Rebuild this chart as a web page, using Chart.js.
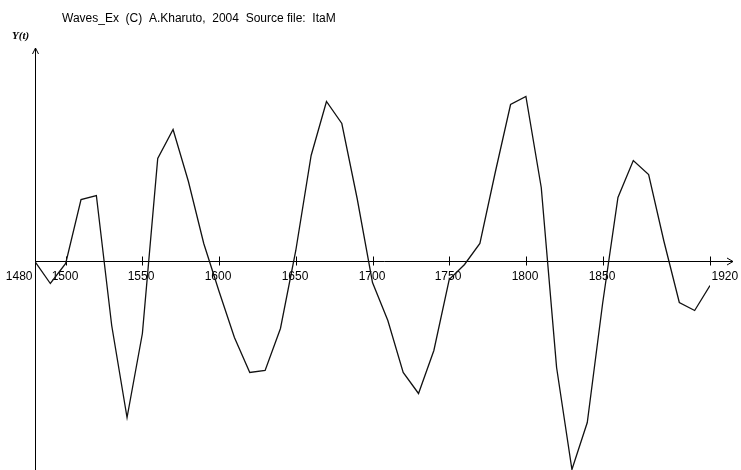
<!DOCTYPE html>
<html>
<head>
<meta charset="utf-8">
<script src="https://cdn.jsdelivr.net/npm/chart.js@4/dist/chart.umd.min.js"></script>
<style>
  html, body { margin: 0; padding: 0; background: #fff; }
  #wrap { width: 741px; height: 470px; }
</style>
</head>
<body>
<div id="wrap"><canvas id="c" width="741" height="470"></canvas></div>
<script>
// Wave series Y(t), one reading per decade
const years = [1480, 1490, 1500, 1510, 1520, 1530, 1540, 1550, 1560, 1570,
               1580, 1590, 1600, 1610, 1620, 1630, 1640, 1650, 1660, 1670,
               1680, 1690, 1700, 1710, 1720, 1730, 1740, 1750, 1760, 1770,
               1780, 1790, 1800, 1810, 1820, 1830, 1840, 1850, 1860, 1870,
               1880, 1890, 1900, 1910, 1920];
const values = [0, -2.2, -0.2, 6.2, 6.6, -6.4, -15.6, -7.2, 10.3, 13.2,
                8.0, 1.8, -3.0, -7.6, -11.1, -10.9, -6.7, 1.1, 10.6, 16.0,
                13.8, 6.3, -2.1, -5.9, -11.1, -13.2, -8.9, -1.8, -0.3, 1.8,
                8.9, 15.7, 16.5, 7.4, -10.6, -20.8, -16.1, -4.2, 6.4, 10.1,
                8.7, 2.0, -4.1, -4.9, -2.4];

// Axis ticks and captions
const tickYears = [1500, 1550, 1600, 1650, 1700, 1750, 1800, 1850, 1920];
const tickLabels = ['1500', '1550', '1600', '1650', '1700', '1750', '1800', '1850', '1920'];
const originLabel = '1480';
const yAxisLabel = 'Y(t)';
const titleText = 'Waves_Ex  (C)  A.Kharuto,  2004  Source file:  ItaM';

const SANS = '"Liberation Sans", Arial, sans-serif';
const SERIF = '"Liberation Serif", "Times New Roman", serif';

// Draws the arrowed axes, tick marks, tick captions and the heading
const axesPlugin = {
  id: 'arrowAxes',
  beforeDatasetsDraw(chart) {
    const ctx = chart.ctx;
    const xs = chart.scales.x, ys = chart.scales.y;
    const x0 = Math.round(xs.getPixelForValue(1480)) + 0.5;
    const y0 = Math.floor(ys.getPixelForValue(0)) + 0.5;
    ctx.save();
    ctx.strokeStyle = '#000';
    ctx.lineWidth = 1;

    // horizontal axis with arrow
    const xEnd = 733;
    ctx.beginPath();
    ctx.moveTo(x0, y0);
    ctx.lineTo(xEnd, y0);
    ctx.moveTo(xEnd - 6, y0 - 3.5);
    ctx.lineTo(xEnd, y0);
    ctx.lineTo(xEnd - 6, y0 + 3.5);
    ctx.stroke();

    // vertical axis with arrow
    const yTop = 48;
    ctx.beginPath();
    ctx.moveTo(x0, chart.height);
    ctx.lineTo(x0, yTop);
    ctx.moveTo(x0 - 3, yTop + 6);
    ctx.lineTo(x0, yTop);
    ctx.lineTo(x0 + 3, yTop + 6);
    ctx.stroke();

    // ticks and labels
    ctx.font = '12px ' + SANS;
    ctx.fillStyle = '#000';
    ctx.textBaseline = 'middle';
    tickYears.forEach((yr, i) => {
      const px = Math.round(xs.getPixelForValue(yr)) + 0.5;
      ctx.beginPath();
      ctx.moveTo(px, y0 - 5);
      ctx.lineTo(px, y0 + 4);
      ctx.stroke();
      const lab = tickLabels[i];
      if (yr === 1920) {
        ctx.textAlign = 'left';
        ctx.fillText(lab, px + 1, y0 + 15.5);
      } else {
        ctx.textAlign = 'center';
        ctx.fillText(lab, px - 1.5, y0 + 15.5);
      }
    });
    ctx.textAlign = 'right';
    ctx.fillText(originLabel, x0 - 3, y0 + 15.5);

    // heading and axis name
    ctx.textAlign = 'left';
    ctx.font = '12px ' + SANS;
    ctx.fillText(titleText, 62, 19);
    ctx.font = 'italic bold 11px ' + SERIF;
    ctx.fillText(yAxisLabel, 12, 36);
    ctx.restore();
  }
};

new Chart(document.getElementById('c'), {
  type: 'line',
  data: {
    datasets: [{
      data: years.map((yr, i) => ({ x: yr, y: values[i] })),
      borderColor: '#111',
      borderWidth: 1.3,
      pointRadius: 0,
      tension: 0,
      fill: false
    }]
  },
  options: {
    responsive: false,
    animation: false,
    devicePixelRatio: 1,
    layout: { padding: { left: 35, right: 31, top: 0, bottom: 0 } },
    plugins: {
      legend: { display: false },
      title: { display: false },
      tooltip: { enabled: false }
    },
    scales: {
      x: { type: 'linear', min: 1480, max: 1920, display: false },
      y: { type: 'linear', min: -20.85, max: 26.15, display: false }
    }
  },
  plugins: [axesPlugin]
});
</script>
</body>
</html>
